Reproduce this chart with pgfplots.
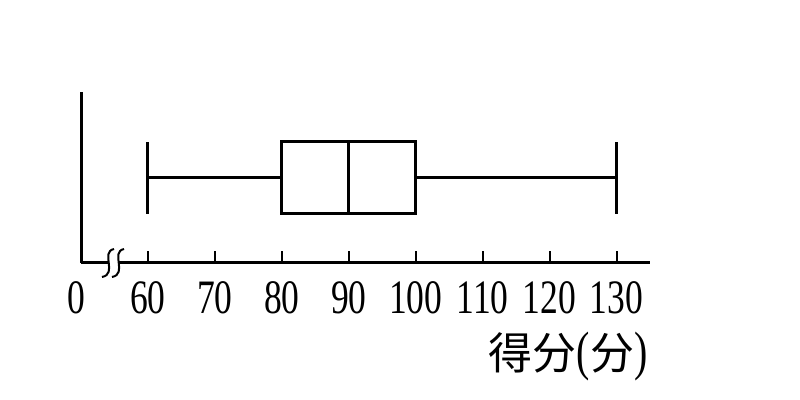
\documentclass[border=0pt]{standalone}
\usepackage{fontspec}
\setmainfont{Liberation Serif}
\newfontfamily\cjk{Noto Sans CJK SC}
\usepackage{graphicx}
\usepackage{pgfplots}
\pgfplotsset{compat=1.18}
\usepgfplotslibrary{statistics}

\newcommand\squeeze[1]{\scalebox{0.74}[1]{#1}}

\begin{document}
\begin{tikzpicture}
\path[use as bounding box] (0,0) rectangle (400pt,200pt);
\begin{axis}[
    at={(40.5pt,68.5pt)}, anchor=south west,
    scale only axis,
    width=284.5pt, height=85.5pt,
    xmin=50, xmax=135,
    ymin=0, ymax=171,
    axis x line=bottom, axis y line=left,
    axis line style={-, line width=1.5pt},
    ytick=\empty,
    xtick={60,70,...,130},
    tick align=inside,
    major tick length=6pt,
    tick style={line width=1pt, black},
    /pgf/number format/assume math mode=true,
    xticklabel style={inner sep=0pt, yshift=-9pt,
        font=\fontsize{24}{24}\selectfont},
    xticklabel={\squeeze{\pgfmathprintnumber{\tick}}},
    clip=false,
]
% box plot: min 60, Q1 80, median 90, Q3 100, max 130
\addplot[black, line width=1.5pt, mark=none,
    boxplot/draw direction=x,
    boxplot prepared={
        lower whisker=60, lower quartile=80, median=90,
        upper quartile=100, upper whisker=130,
        draw position=85, box extend=72, whisker extend=72}
] coordinates {};
\node[anchor=north, inner sep=0pt, yshift=-9pt,
    font=\fontsize{24}{24}\selectfont] at (axis cs:49.3,0) {\squeeze{0}};
\end{axis}

% axis break mark
\fill[white] (54pt,66pt) rectangle (59pt,71pt);
\draw[line width=1pt] (51pt,61.5pt) .. controls (59pt,63pt) and (50pt,74pt) .. (57pt,75.5pt);
\draw[line width=1pt] (56pt,61.5pt) .. controls (64pt,63pt) and (55pt,74pt) .. (62pt,75.5pt);

% axis title
\node[anchor=base east, inner sep=0pt] at (324pt,15pt)
    {{\cjk\fontsize{22}{22}\selectfont 得分}\squeeze{\fontsize{27}{27}\selectfont(}{\cjk\fontsize{22}{22}\selectfont 分}\squeeze{\fontsize{27}{27}\selectfont)}};
\end{tikzpicture}
\end{document}
